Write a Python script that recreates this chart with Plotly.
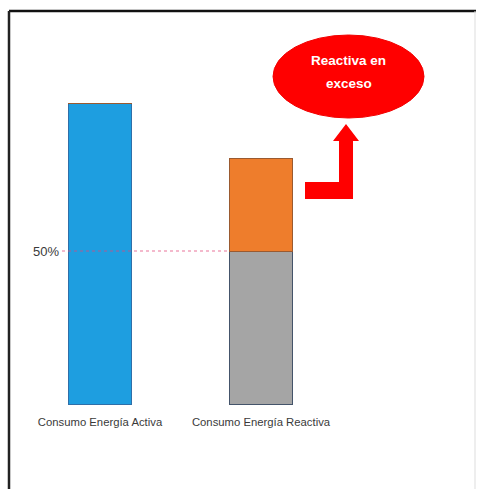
import plotly.graph_objects as go

# --- data -------------------------------------------------------------
categories = ["Consumo Energía Activa", "Consumo Energía Reactiva"]
base_values = [98, 50]         # activa total, reactiva up to 50 %
excess_values = [0, 30]        # reactiva above the 50 % threshold
threshold = 50
threshold_label = "50%"
callout_lines = ["Reactiva en", "exceso"]

# --- geometry of the canvas -------------------------------------------
W, H = 480, 489
L, B = 62, 84                    # plot area margins (px)
PW, PH = W - L, H - B
X_RANGE = [-0.236, -0.236 + PW / 161.0]
Y_RANGE = [0, PH / 3.08]


def dx(px):
    """Figure pixel x -> data x."""
    return X_RANGE[0] + (px - L) / PW * (X_RANGE[1] - X_RANGE[0])


def dy(py):
    """Figure pixel y -> data y."""
    return Y_RANGE[0] + (PH - py) / PH * (Y_RANGE[1] - Y_RANGE[0])


def px_(px):
    return (px - L) / PW


def py_(py):
    return (PH - py) / PH


xpos = list(range(len(categories)))
bar_w = 0.395

fig = go.Figure()
fig.add_trace(go.Bar(
    x=xpos, y=base_values, width=bar_w,
    marker=dict(color=["#1E9EE0", "#A5A5A5"],
                line=dict(color=["#2F6FA8", "#44546A"], width=1.2)),
    hoverinfo="skip",
))
fig.add_trace(go.Bar(
    x=xpos, y=excess_values, width=bar_w,
    marker=dict(color="#EE7D2C", line=dict(color="#9A5A30", width=1)),
    hoverinfo="skip",
))

shapes = []
# 50 % reference line
shapes.append(dict(type="line", xref="x", yref="y",
                   x0=X_RANGE[0], x1=xpos[1] - bar_w / 2, y0=threshold, y1=threshold,
                   line=dict(color="rgba(225,70,120,0.75)", width=1.2, dash="dot"),
                   layer="above"))

# callout ellipse
shapes.append(dict(type="circle", xref="x", yref="y",
                   x0=dx(273), x1=dx(424), y0=dy(118), y1=dy(35),
                   fillcolor="#FF0000", line=dict(color="#F20000", width=1)))

# bent arrow pointing up to the callout
pts = [(305, 182), (339, 182), (339, 141), (333, 141), (346, 124),
       (359, 141), (353, 141), (353, 199), (305, 199)]
path = "M " + " L ".join(f"{dx(a):.4f},{dy(b):.4f}" for a, b in pts) + " Z"
shapes.append(dict(type="path", xref="x", yref="y", path=path,
                   fillcolor="#FF0000", line=dict(color="#FF0000", width=0)))

# outer frame
shapes.append(dict(type="line", xref="paper", yref="paper",
                   x0=px_(9), x1=px_(476), y0=py_(11), y1=py_(11),
                   line=dict(color="#111111", width=2.5)))
shapes.append(dict(type="line", xref="paper", yref="paper",
                   x0=px_(9), x1=px_(9), y0=py_(11), y1=py_(495),
                   line=dict(color="#222222", width=2.5)))
shapes.append(dict(type="line", xref="paper", yref="paper",
                   x0=px_(475), x1=px_(475), y0=py_(11), y1=py_(495),
                   line=dict(color="#DDDDDD", width=1)))

# callout text, one annotation per line
annotations = [
    dict(xref="x", yref="y", x=dx(348.5), y=dy(yy), text=f"<b>{line}</b>",
         showarrow=False,
         font=dict(family="Liberation Sans, Arial, sans-serif", size=13.5, color="white"))
    for line, yy in zip(callout_lines, [60, 83])
]

fig.update_layout(
    width=W, height=H,
    margin=dict(l=L, r=0, t=0, b=B),
    barmode="stack",
    showlegend=False,
    plot_bgcolor="white",
    paper_bgcolor="white",
    shapes=shapes,
    annotations=annotations,
    xaxis=dict(range=X_RANGE, tickvals=xpos, ticktext=categories,
               showgrid=False, zeroline=False, showline=False, ticks="",
               ticklabelstandoff=9,
               tickfont=dict(family="Liberation Sans, Arial, sans-serif",
                             size=11.3, color="#3A3A3A")),
    yaxis=dict(range=Y_RANGE, tickvals=[threshold], ticktext=[threshold_label],
               showgrid=False, zeroline=False, showline=False, ticks="",
               ticklabelstandoff=2,
               tickfont=dict(family="Liberation Sans, Arial, sans-serif",
                             size=13, color="#3A3A3A")),
)

fig.write_html("out.html")
